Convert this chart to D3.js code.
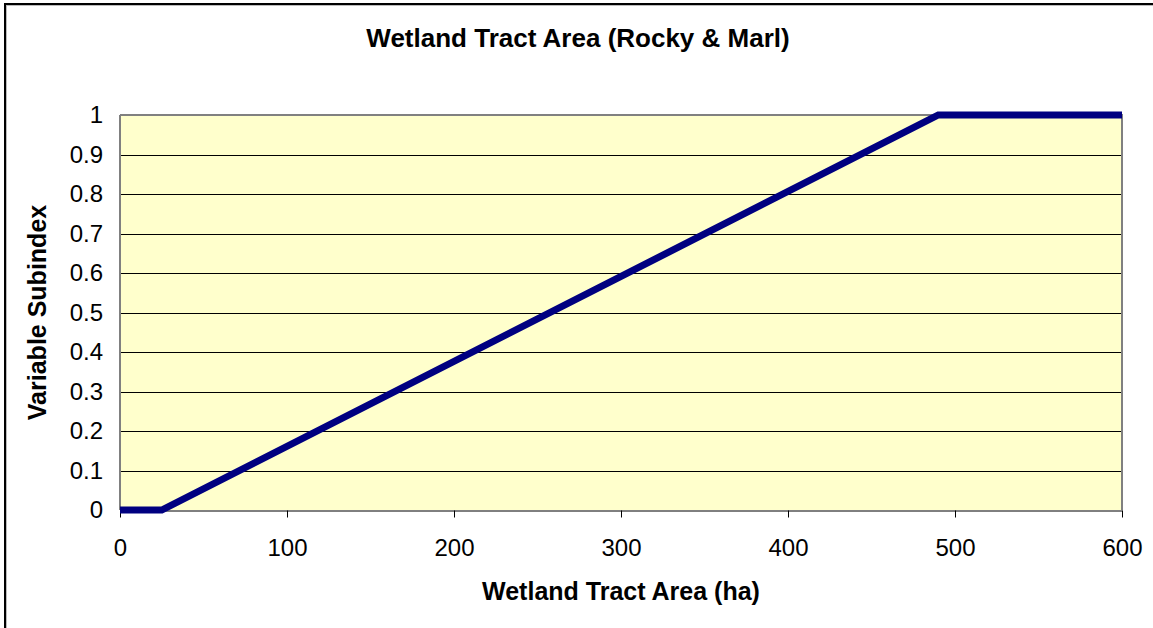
<!DOCTYPE html>
<html><head><meta charset="utf-8">
<script src="https://cdn.jsdelivr.net/npm/d3@7"></script>
<style>body{margin:0;background:#fff}svg{display:block;font-family:Arial,"Liberation Sans",sans-serif}</style>
</head><body><svg id="c" width="1153" height="628"></svg>
<script>
const xValues = [0, 25, 490, 600];
const yValues = [0, 0, 1, 1];
const xTicks = [0, 100, 200, 300, 400, 500, 600];
const yTicks = [0, 0.1, 0.2, 0.3, 0.4, 0.5, 0.6, 0.7, 0.8, 0.9, 1];
const title = "Wetland Tract Area (Rocky & Marl)";
const xTitle = "Wetland Tract Area (ha)";
const yTitle = "Variable Subindex";

const svg = d3.select("#c");
const L = 120, R = 1122, T = 115, B = 510;
const x = d3.scaleLinear().domain([0, 600]).range([L, R]);
const y = d3.scaleLinear().domain([0, 1]).range([B, T]);
const FF = "Arial, 'Liberation Sans', sans-serif";

// outer frame
svg.append("rect").attr("x", 6).attr("y", 5).attr("width", 1160).attr("height", 640)
  .attr("fill", "none").attr("stroke", "#bbb").attr("stroke-width", 2);
svg.append("rect").attr("x", 5).attr("y", 4).attr("width", 1160).attr("height", 640)
  .attr("fill", "none").attr("stroke", "#000").attr("stroke-width", 2);

// plot background
svg.append("rect").attr("x", L).attr("y", T).attr("width", R - L).attr("height", B - T).attr("fill", "#FFFFCC");

// gridlines
svg.append("g").selectAll("line").data(yTicks.filter(d => d > 0 && d < 1)).join("line")
  .attr("x1", L).attr("x2", R).attr("y1", d => Math.round(y(d)) + 0.5).attr("y2", d => Math.round(y(d)) + 0.5)
  .attr("stroke", "#000").attr("stroke-width", 1);

// plot border
svg.append("path").attr("d", `M${L},${T} H${R} V${B}`).attr("fill", "none").attr("stroke", "#808080").attr("stroke-width", 2);
svg.append("line").attr("x1", L).attr("x2", L).attr("y1", T).attr("y2", B).attr("stroke", "#808080").attr("stroke-width", 2);

// x axis
const xa = svg.append("g").attr("transform", `translate(0,${B + 0.5})`)
  .call(d3.axisBottom(x).tickValues(xTicks).tickSize(7).tickSizeOuter(0).tickPadding(21));
xa.select(".domain").attr("stroke", "#000");
xa.selectAll(".tick line").attr("stroke", "#000");
xa.selectAll("text").attr("font-size", 24).attr("fill", "#000").attr("font-family", FF);

// y axis labels
const ya = svg.append("g").attr("transform", `translate(${L},0)`)
  .call(d3.axisLeft(y).tickValues(yTicks).tickSize(0).tickPadding(17).tickFormat(d3.format("~g")));
ya.select(".domain").remove();
ya.selectAll("text").attr("font-size", 24).attr("fill", "#000").attr("font-family", FF);

// line
const pts = xValues.map((v, i) => [v, yValues[i]]);
svg.append("path").datum(pts)
  .attr("d", d3.line().x(d => x(d[0])).y(d => y(d[1])))
  .attr("fill", "none").attr("stroke", "#000080").attr("stroke-width", 7).attr("stroke-linejoin", "miter");

// titles
svg.append("text").attr("x", 578).attr("y", 47).attr("text-anchor", "middle")
  .attr("font-size", 26).attr("font-weight", "bold").text(title);
svg.append("text").attr("x", 621).attr("y", 600).attr("text-anchor", "middle")
  .attr("font-size", 25).attr("font-weight", "bold").text(xTitle);
svg.append("text").attr("transform", `translate(46,${(T + B) / 2}) rotate(-90)`).attr("text-anchor", "middle")
  .attr("font-size", 25).attr("font-weight", "bold").text(yTitle);
</script></body></html>
